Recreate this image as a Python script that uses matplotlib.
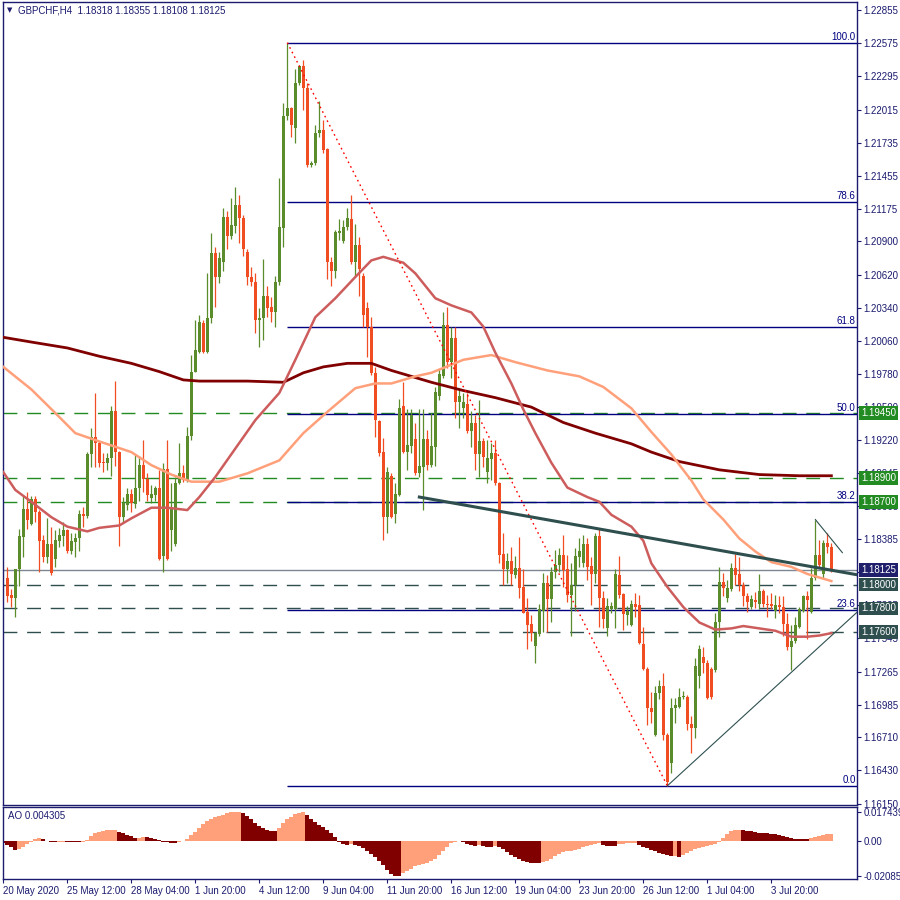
import matplotlib.pyplot as plt
import matplotlib.transforms as mtrans
import numpy as np

plt.rcParams['font.family'] = ['Liberation Sans', 'DejaVu Sans']
plt.rcParams['font.size'] = 7

# GBPCHF H4 candles, bars 1..207 (bar 0 sits under the left border)
open_ = [1.1806, 1.1791, 1.1789, 1.1813, 1.1840, 1.1864, 1.1851, 1.1872, 1.1861, 1.1838,
         1.1823, 1.1834, 1.1822, 1.1837, 1.1841, 1.1846, 1.1828, 1.1836, 1.1839, 1.1860,
         1.1858, 1.1910, 1.1925, 1.1920, 1.1904, 1.1903, 1.1907, 1.1947, 1.1912, 1.1857,
         1.1867, 1.1877, 1.1868, 1.1882, 1.1901, 1.1889, 1.1873, 1.1876, 1.1882, 1.1824,
         1.1898, 1.1846, 1.1834, 1.1886, 1.1894, 1.1888, 1.1926, 1.1980, 1.1997, 1.2021,
         1.1997, 1.2025, 1.2080, 1.2060, 1.2073, 1.2111, 1.2095, 1.2103, 1.2121, 1.2110,
         1.2081, 1.2060, 1.2056, 1.2024, 1.2025, 1.2044, 1.2035, 1.2030, 1.2056, 1.2101,
         1.2196, 1.2203, 1.2186, 1.2224, 1.2238, 1.2220, 1.2155, 1.2156, 1.2182, 1.2184,
         1.2168, 1.2073, 1.2065, 1.2097, 1.2090, 1.2102, 1.2109, 1.2073, 1.2087, 1.2061,
         1.2034, 1.2018, 1.1979, 1.1938, 1.1912, 1.1857, 1.1892, 1.1860, 1.1876, 1.1951,
         1.1912, 1.1917, 1.1923, 1.1894, 1.1899, 1.1923, 1.1901, 1.1916, 1.1959, 1.1976,
         1.2019, 1.1988, 1.2008, 1.1954, 1.1949, 1.1953, 1.1930, 1.1937, 1.1910, 1.1921,
         1.1895, 1.1906, 1.1911, 1.1886, 1.1826, 1.1813, 1.1820, 1.1808, 1.1814, 1.1798,
         1.1777, 1.1767, 1.1748, 1.1758, 1.1778, 1.1801, 1.1788, 1.1811, 1.1817, 1.1825,
         1.1813, 1.1791, 1.1800, 1.1823, 1.1818, 1.1834, 1.1816, 1.1809, 1.1841, 1.1789,
         1.1763, 1.1779, 1.1779, 1.1808, 1.1792, 1.1774, 1.1766, 1.1784, 1.1783, 1.1750,
         1.1729, 1.1696, 1.1673, 1.1708, 1.1714, 1.1673, 1.1649, 1.1696, 1.1697, 1.1705,
         1.1705, 1.1682, 1.1679, 1.1723, 1.1739, 1.1734, 1.1729, 1.1728, 1.1768, 1.1802,
         1.1789, 1.1796, 1.1814, 1.1809, 1.1800, 1.1790, 1.1781, 1.1787, 1.1784, 1.1795,
         1.1784, 1.1784, 1.1778, 1.1783, 1.1781, 1.1767, 1.1747, 1.1752, 1.1764, 1.1778,
         1.1790, 1.1777, 1.1806, 1.1825, 1.1809, 1.1835, 1.18318]
high = [1.1815, 1.1796, 1.1813, 1.1847, 1.1875, 1.1878, 1.1875, 1.1875, 1.1863, 1.1842,
        1.1856, 1.1849, 1.1846, 1.1848, 1.1853, 1.1847, 1.1844, 1.1844, 1.1863, 1.1866,
        1.1912, 1.1932, 1.1962, 1.1921, 1.1911, 1.1911, 1.1951, 1.1972, 1.1913, 1.1874,
        1.1882, 1.1881, 1.1910, 1.1909, 1.1922, 1.1894, 1.1884, 1.1883, 1.1897, 1.1903,
        1.1922, 1.1886, 1.1891, 1.1920, 1.1901, 1.1933, 1.1994, 1.2024, 1.2028, 1.2024,
        1.2063, 1.2097, 1.2085, 1.2081, 1.2118, 1.2116, 1.2127, 1.2136, 1.2129, 1.2112,
        1.2084, 1.2068, 1.2063, 1.2034, 1.2075, 1.2052, 1.2043, 1.2061, 1.2144, 1.2207,
        1.2258, 1.2204, 1.2236, 1.2239, 1.2243, 1.2224, 1.2158, 1.2188, 1.2209, 1.2193,
        1.2169, 1.2077, 1.2100, 1.2109, 1.2108, 1.2118, 1.2129, 1.2105, 1.2094, 1.2063,
        1.2039, 1.2026, 1.1984, 1.1939, 1.1924, 1.1899, 1.1894, 1.1886, 1.1957, 1.1971,
        1.1948, 1.1948, 1.1937, 1.1948, 1.1948, 1.1931, 1.1945, 1.1967, 1.1982, 1.2030,
        1.2035, 1.2018, 1.2018, 1.1966, 1.1962, 1.1962, 1.1947, 1.1943, 1.1956, 1.1924,
        1.1922, 1.1920, 1.1922, 1.1887, 1.1844, 1.1827, 1.1832, 1.1824, 1.1840, 1.1813,
        1.1789, 1.1774, 1.1760, 1.1784, 1.1810, 1.1808, 1.1815, 1.1829, 1.1831, 1.1842,
        1.1825, 1.1818, 1.1831, 1.1839, 1.1842, 1.1839, 1.1823, 1.1844, 1.1847, 1.1795,
        1.1789, 1.1785, 1.1813, 1.1824, 1.1793, 1.1782, 1.1787, 1.1793, 1.1791, 1.1764,
        1.1730, 1.1709, 1.1714, 1.1719, 1.1725, 1.1675, 1.1704, 1.1704, 1.1713, 1.1710,
        1.1707, 1.1689, 1.1738, 1.1749, 1.1747, 1.1736, 1.1730, 1.1776, 1.1815, 1.1810,
        1.1804, 1.1818, 1.1826, 1.1823, 1.1802, 1.1793, 1.1791, 1.1794, 1.1809, 1.1796,
        1.1791, 1.1793, 1.1791, 1.1790, 1.1790, 1.1776, 1.1766, 1.1773, 1.1781, 1.1791,
        1.1795, 1.1814, 1.1855, 1.1838, 1.1838, 1.1844, 1.18355]
low = [1.1785, 1.1781, 1.1773, 1.1799, 1.1823, 1.1847, 1.1850, 1.1853, 1.1811, 1.1819,
       1.1818, 1.1808, 1.1815, 1.1832, 1.1833, 1.1827, 1.1826, 1.1823, 1.1828, 1.1849,
       1.1856, 1.1899, 1.1899, 1.1899, 1.1895, 1.1897, 1.1892, 1.1900, 1.1833, 1.1853,
       1.1863, 1.1861, 1.1865, 1.1871, 1.1878, 1.1871, 1.1869, 1.1871, 1.1821, 1.1811,
       1.1821, 1.1828, 1.1833, 1.1885, 1.1887, 1.1887, 1.1922, 1.1980, 1.1996, 1.1996,
       1.1996, 1.2021, 1.2035, 1.2055, 1.2065, 1.2084, 1.2092, 1.2097, 1.2089, 1.2078,
       1.2053, 1.2052, 1.2013, 1.2001, 1.2007, 1.2026, 1.2022, 1.2018, 1.2053, 1.2085,
       1.2193, 1.2178, 1.2173, 1.2222, 1.2201, 1.2153, 1.2153, 1.2155, 1.2178, 1.2165,
       1.2058, 1.2052, 1.2059, 1.2091, 1.2089, 1.2100, 1.2071, 1.2060, 1.2044, 1.2018,
       1.1992, 1.1977, 1.1925, 1.1909, 1.1838, 1.1844, 1.1856, 1.1852, 1.1875, 1.1911,
       1.1897, 1.1911, 1.1893, 1.1891, 1.1863, 1.1897, 1.1899, 1.1900, 1.1956, 1.1975,
       1.1983, 1.1975, 1.1941, 1.1932, 1.1941, 1.1928, 1.1916, 1.1897, 1.1891, 1.1899,
       1.1886, 1.1888, 1.1884, 1.1818, 1.1800, 1.1801, 1.1800, 1.1806, 1.1789, 1.1776,
       1.1746, 1.1752, 1.1734, 1.1757, 1.1760, 1.1760, 1.1768, 1.1806, 1.1811, 1.1798,
       1.1785, 1.1757, 1.1778, 1.1815, 1.1815, 1.1804, 1.1783, 1.1801, 1.1764, 1.1763,
       1.1757, 1.1776, 1.1763, 1.1789, 1.1762, 1.1766, 1.1765, 1.1773, 1.1750, 1.1728,
       1.1681, 1.1683, 1.1672, 1.1703, 1.1669, 1.1630, 1.1641, 1.1683, 1.1696, 1.1703,
       1.1677, 1.1658, 1.1670, 1.1713, 1.1725, 1.1703, 1.1703, 1.1726, 1.1756, 1.1790,
       1.1785, 1.1795, 1.1800, 1.1795, 1.1782, 1.1777, 1.1779, 1.1780, 1.1779, 1.1781,
       1.1773, 1.1779, 1.1772, 1.1776, 1.1757, 1.1745, 1.1728, 1.1751, 1.1763, 1.1777,
       1.1754, 1.1776, 1.1804, 1.1815, 1.1806, 1.1827, 1.18108]
close = [1.1790, 1.1789, 1.1813, 1.1841, 1.1864, 1.1855, 1.1872, 1.1861, 1.1837, 1.1823,
         1.1834, 1.1810, 1.1838, 1.1842, 1.1846, 1.1828, 1.1837, 1.1839, 1.1860, 1.1858,
         1.1910, 1.1925, 1.1920, 1.1903, 1.1903, 1.1907, 1.1947, 1.1912, 1.1857, 1.1869,
         1.1877, 1.1869, 1.1882, 1.1901, 1.1889, 1.1876, 1.1877, 1.1882, 1.1822, 1.1898,
         1.1822, 1.1864, 1.1886, 1.1894, 1.1888, 1.1926, 1.1980, 1.1998, 1.2022, 1.1997,
         1.2025, 1.2080, 1.2060, 1.2076, 1.2111, 1.2095, 1.2104, 1.2121, 1.2110, 1.2084,
         1.2060, 1.2056, 1.2024, 1.2025, 1.2044, 1.2034, 1.2030, 1.2056, 1.2102, 1.2196,
         1.2203, 1.2188, 1.2224, 1.2238, 1.2220, 1.2155, 1.2156, 1.2182, 1.2184, 1.2167,
         1.2073, 1.2065, 1.2098, 1.2099, 1.2102, 1.2110, 1.2073, 1.2087, 1.2067, 1.2028,
         1.2018, 1.1979, 1.1939, 1.1911, 1.1857, 1.1895, 1.1857, 1.1877, 1.1949, 1.1912,
         1.1918, 1.1943, 1.1894, 1.1900, 1.1923, 1.1901, 1.1917, 1.1963, 1.1978, 1.2019,
         1.1988, 1.2008, 1.1954, 1.1959, 1.1954, 1.1930, 1.1937, 1.1910, 1.1921, 1.1908,
         1.1907, 1.1911, 1.1886, 1.1825, 1.1813, 1.1820, 1.1809, 1.1814, 1.1797, 1.1776,
         1.1766, 1.1759, 1.1759, 1.1779, 1.1801, 1.1788, 1.1811, 1.1817, 1.1825, 1.1812,
         1.1791, 1.1800, 1.1824, 1.1828, 1.1834, 1.1815, 1.1809, 1.1841, 1.1789, 1.1771,
         1.1782, 1.1782, 1.1809, 1.1791, 1.1775, 1.1778, 1.1784, 1.1781, 1.1751, 1.1729,
         1.1696, 1.1692, 1.1708, 1.1714, 1.1673, 1.1633, 1.1696, 1.1698, 1.1705, 1.1706,
         1.1682, 1.1679, 1.1731, 1.1746, 1.1734, 1.1704, 1.1705, 1.1768, 1.1802, 1.1797,
         1.1797, 1.1814, 1.1808, 1.1800, 1.1790, 1.1785, 1.1788, 1.1785, 1.1795, 1.1784,
         1.1783, 1.1782, 1.1783, 1.1781, 1.1767, 1.1747, 1.1752, 1.1766, 1.1779, 1.1790,
         1.1787, 1.1806, 1.1825, 1.1817, 1.1835, 1.1832, 1.18125]

# moving averages (bar index, price)
ma200_bar = [0, 7, 16, 24, 32, 39, 45, 49, 61, 70, 75, 80, 86, 92, 97, 103, 107, 115, 123, 132,
             140, 148, 157, 162, 169, 179, 189, 199, 207]
ma200_val = [1.2009, 1.2005, 1.2000, 1.1993, 1.1987, 1.1980, 1.1973, 1.1972, 1.1972, 1.1971,
             1.1979, 1.1984, 1.1987, 1.1987, 1.1981, 1.1975, 1.1971, 1.1964, 1.1958, 1.1950,
             1.1937, 1.1928, 1.1919, 1.1912, 1.1904, 1.1897, 1.1893, 1.1892, 1.1892]
ma100_bar = [0, 7, 13, 18, 24, 32, 37, 42, 47, 54, 61, 69, 75, 81, 88, 93, 97, 103, 107, 115,
             122, 128, 136, 144, 150, 157, 162, 167, 172, 175, 180, 184, 188, 192, 197, 201, 207]
ma100_val = [1.1984, 1.1965, 1.1945, 1.1928, 1.1921, 1.1912, 1.1901, 1.1893, 1.1887, 1.1887,
             1.1894, 1.1905, 1.1928, 1.1946, 1.1966, 1.1970, 1.1970, 1.1976, 1.1979, 1.1990,
             1.1994, 1.1988, 1.1981, 1.1976, 1.1967, 1.1949, 1.1929, 1.1910, 1.1888, 1.1872,
             1.1855, 1.1839, 1.1828, 1.1819, 1.1815, 1.1809, 1.1803]
ma50_bar = [0, 3, 7, 12, 16, 21, 24, 29, 32, 37, 41, 46, 49, 53, 58, 63, 69, 73, 78, 83,
            88, 92, 95, 100, 103, 108, 112, 117, 120, 123, 127, 130, 133, 137, 141, 146, 149, 152, 157, 160,
            162, 166, 170, 174, 178, 182, 185, 189, 193, 197, 201, 204, 207]
ma50_val = [1.1895, 1.1880, 1.1870, 1.1857, 1.1849, 1.1845, 1.1848, 1.1850, 1.1856, 1.1865,
            1.1865, 1.1863, 1.1874, 1.1891, 1.1915, 1.1939, 1.1962, 1.1990, 1.2026, 1.2042,
            1.2060, 1.2074, 1.2077, 1.2072, 1.2063, 1.2042, 1.2036, 1.2030, 1.2018, 1.1996,
            1.1970, 1.1948, 1.1928, 1.1903, 1.1882, 1.1874, 1.1870, 1.1859, 1.1849, 1.1837,
            1.1818, 1.1798, 1.1781, 1.1768, 1.1762, 1.1763, 1.1765, 1.1763, 1.1761, 1.1756,
            1.1756, 1.1757, 1.1759]

# Awesome Oscillator, bars 0..207, in units of 1e-3
ao_val = [-1.0, -2.4, -3.8, -5.4, -5.0, -3.4, -1.8, -0.6, 1.0, 1.6,
          1.4, 0.2, -0.4, -0.6, -0.5, -0.4, -0.5, -0.6, -0.7, -0.8,
          -0.4, 0.8, 3.0, 4.6, 5.4, 6.0, 6.4, 6.6, 6.7, 5.6,
          4.6, 3.8, 3.0, 1.6, 2.0, 2.2, 2.1, 1.8, 1.2, 0.4,
          -0.4, -0.8, -1.0, -1.1, -0.6, 0.0, 1.0, 3.6, 5.6, 7.6,
          10.1, 11.9, 13.1, 14.1, 14.9, 15.7, 16.5, 17.1, 17.3, 17.439,
          16.9, 14.9, 12.9, 10.9, 8.9, 7.6, 6.8, 6.2, 5.8, 7.6,
          10.5, 13.1, 14.5, 16.1, 16.9, 17.3, 15.5, 13.1, 11.5, 9.7,
          8.1, 6.6, 4.6, 2.6, -0.4, -2.0, -2.6, -2.0, -2.4, -3.0,
          -4.4, -6.0, -7.7, -9.7, -11.9, -14.5, -17.3, -19.7, -20.6, -20.854,
          -18.9, -17.7, -16.5, -14.9, -14.3, -13.9, -12.9, -12.1, -10.5, -8.5,
          -6.2, -3.4, -1.4, -0.6, -0.2, -0.8, -1.6, -2.4, -2.9, -2.6,
          -3.2, -3.4, -3.5, -3.2, -3.8, -5.0, -6.4, -8.3, -9.7, -10.9,
          -11.7, -12.3, -12.9, -13.3, -13.4, -12.5, -11.7, -10.5, -8.9, -7.7,
          -6.8, -6.2, -5.8, -5.2, -4.6, -3.8, -3.0, -2.2, -1.6, -1.4,
          -2.6, -2.8, -2.9, -3.0, -2.0, -1.6, -1.4, -1.2, -1.0, -2.4,
          -3.4, -4.4, -5.4, -6.2, -7.0, -7.8, -8.6, -9.2, -9.0, -9.3,
          -8.4, -7.0, -5.8, -5.0, -4.4, -3.6, -3.0, -2.4, -1.8, -0.6,
          1.6, 4.0, 6.0, 6.6, 6.8, 6.6, 6.2, 5.8, 5.4, 5.0,
          4.8, 4.6, 4.4, 4.2, 3.8, 3.0, 2.4, 1.8, 1.4, 1.2,
          1.0, 0.9, 1.6, 2.4, 3.2, 3.8, 4.1, 4.305]

# fibonacci retracement between the swing high and low
fib_hi_bar, fib_hi = 71, 1.2258
fib_lo_bar, fib_lo = 166, 1.1630
fib_levels = [0.0, 23.6, 38.2, 50.0, 61.8, 78.6, 100.0]

# horizontal levels and trendlines
green_levels = [1.19450, 1.18900, 1.18700]
grey_levels = [1.18000, 1.17800, 1.17600]
bid = 1.18125
trend_res = ([104, 214], [1.1874, 1.1808])
trend_sup = ([166, 214], [1.1630, 1.17785])
trend_small = ([203, 209.75], [1.1855, 1.1827])

price_ticks = [1.22855, 1.22575, 1.22295, 1.22015, 1.21735, 1.21455, 1.21175, 1.20900,
               1.20620, 1.20340, 1.20060, 1.19780, 1.19500, 1.19220, 1.18945, 1.18665,
               1.18385, 1.18105, 1.17825, 1.17545, 1.17265, 1.16985, 1.16710, 1.16430, 1.16150]
time_ticks = list(range(0, 208, 16))
time_labels = ['20 May 2020', '25 May 12:00', '28 May 04:00', '1 Jun 20:00', '4 Jun 12:00',
               '9 Jun 04:00', '11 Jun 20:00', '16 Jun 12:00', '19 Jun 04:00', '23 Jun 20:00',
               '26 Jun 12:00', '1 Jul 04:00', '3 Jul 20:00']

navy = '#1b1b6f'
bull = '#5a8c2b'
bear = '#f04d22'
slate = '#2f4f4f'
forest = '#228b22'

fig = plt.figure(figsize=(9, 9), dpi=100)
ax = fig.add_axes([0.0028, 0.1052, 0.9494, 0.8929])
ao = fig.add_axes([0.0028, 0.0230, 0.9494, 0.0800])

for a in (ax, ao):
    for s in a.spines.values():
        s.set_color(navy)
        s.set_linewidth(1)
    a.set_xlim(-0.2, 213.4)

# levels under the candles
for lv in green_levels:
    ax.axhline(lv, color=forest, lw=1, dashes=(10, 7), zorder=1)
for lv in grey_levels:
    ax.axhline(lv, color=slate, lw=1, dashes=(10, 7), zorder=1)
ax.axhline(bid, color='#7b8793', lw=1, zorder=1)

trans = mtrans.blended_transform_factory(ax.transAxes, ax.transData)
for lv in fib_levels:
    p = fib_lo + (fib_hi - fib_lo) * lv / 100
    ax.hlines(p, fib_hi_bar, 214, color='#000080', lw=1, zorder=1.5)
    ax.text(0.9985, p + 0.00008, f'{lv:.1f}', transform=trans, ha='right', va='bottom',
            color='#000080', fontsize=7)
ax.plot([fib_hi_bar, fib_lo_bar], [fib_hi, fib_lo], color='red', lw=1,
        ls=(0, (1.2, 2.5)), zorder=5)

# candles
o = np.array(open_)
h = np.array(high)
l = np.array(low)
c = np.array(close)
x = np.arange(1, len(c) + 1)
col = np.where(c > o, bull, bear)
ax.vlines(x, l, h, colors=col, lw=0.9, zorder=3)
ax.bar(x, np.maximum(np.abs(c - o), 0.00009), bottom=np.minimum(o, c), width=0.7,
       color=col, lw=0, zorder=3)

# moving averages
ax.plot(ma200_bar, ma200_val, color='#800000', lw=2.0, zorder=4)
ax.plot(ma100_bar, ma100_val, color='#ffa07a', lw=1.8, zorder=4)
ax.plot(ma50_bar, ma50_val, color='#cd5c5c', lw=1.8, zorder=4)

# trendlines
ax.plot(*trend_res, color=slate, lw=2.2, zorder=5)
ax.plot(*trend_sup, color=slate, lw=0.8, zorder=5)
ax.plot(*trend_small, color=slate, lw=0.8, zorder=5)

ax.set_ylim(1.16135, 1.22926)
ax.yaxis.tick_right()
ax.set_yticks(price_ticks)
ax.set_yticklabels([f'{v:.5f}' for v in price_ticks])
ax.tick_params(axis='y', length=3, width=0.8, color=navy, labelcolor=navy, pad=1.5, labelsize=7)
ax.tick_params(axis='x', bottom=False, labelbottom=False)

# price tags on the right
tags = [(1.19450, forest), (1.18900, forest), (1.18700, forest), (bid, '#1f1f6b'),
        (1.18000, slate), (1.17800, slate), (1.17600, slate)]
for p, fc in tags:
    ax.text(1.0047, p, f'{p:.5f}', transform=trans, ha='left', va='center', color='white',
            fontsize=7, clip_on=False, zorder=10,
            bbox=dict(boxstyle='square,pad=0.18', fc=fc, ec='none'))

# AO panel
aov = np.array(ao_val) / 1000
ao_col = [bear if i == 0 else ('#ffa07a' if aov[i] > aov[i - 1] else '#800000')
          for i in range(len(aov))]
ao_col[0] = '#800000'
ao.bar(np.arange(len(aov)), aov, width=1.0, color=ao_col, lw=0)
ao.set_ylim(-0.02282, 0.02006)
ao.yaxis.tick_right()
ao.set_yticks([0.017439, 0.0, -0.020854])
ao.set_yticklabels(['0.017439', '0.00', '-0.020854'])
ao.tick_params(axis='y', length=3, width=0.8, color=navy, labelcolor=navy, pad=1.5, labelsize=7)
ao.set_xticks(time_ticks)
ao.set_xticklabels(time_labels, ha='left')
ao.tick_params(axis='x', length=3, width=0.8, color=navy, labelcolor=navy, pad=1.5, labelsize=7)

fig.text(7 / 900, 1 - 10.5 / 900, '\u25bc', fontsize=5, family='DejaVu Sans', color=navy, va='center')
fig.text(18 / 900, 1 - 10.5 / 900, 'GBPCHF,H4  1.18318 1.18355 1.18108 1.18125',
         fontsize=7, color=navy, va='center')
fig.text(8 / 900, 1 - 816 / 900, 'AO 0.004305', fontsize=7, color=navy, va='center')

fig.savefig('out.png', dpi=100)
